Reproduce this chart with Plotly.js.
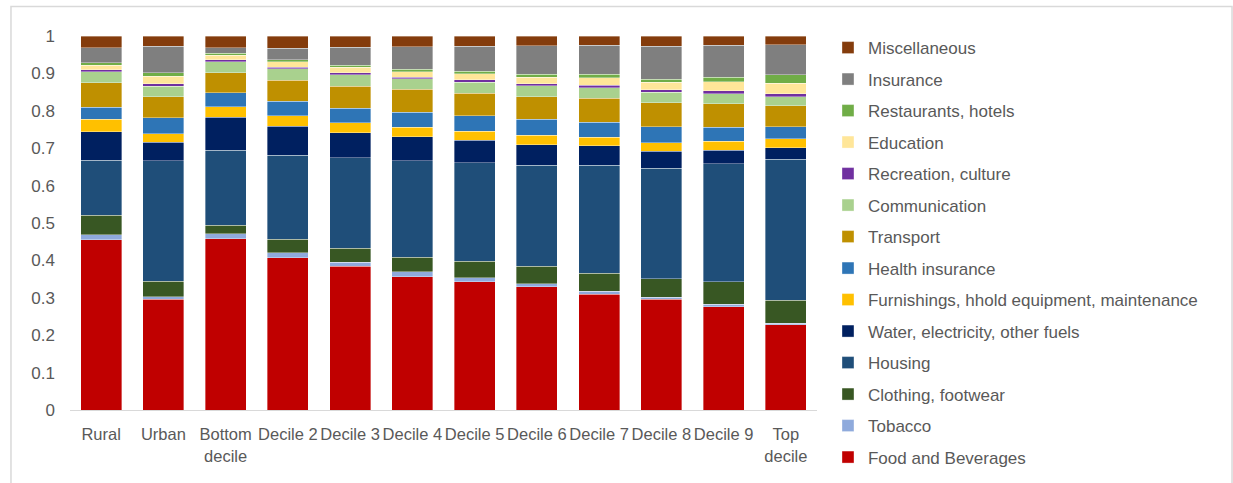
<!DOCTYPE html>
<html>
<head>
<meta charset="utf-8">
<script src="https://cdn.plot.ly/plotly-3.0.1.min.js"></script>
<style>
  html, body { margin: 0; padding: 0; background: #ffffff; }
  #chart { width: 1233px; height: 483px; }
</style>
</head>
<body>
<div id="chart"></div>
<script>
// Household budget shares by area and expenditure decile
const categories = ["Rural", "Urban", "Bottom<br>decile", "Decile 2", "Decile 3", "Decile 4",
                    "Decile 5", "Decile 6", "Decile 7", "Decile 8", "Decile 9", "Top<br>decile"];

const foodBeverages  = [0.455, 0.296, 0.458, 0.407, 0.384, 0.356, 0.343, 0.329, 0.310, 0.296, 0.276, 0.228];
const tobacco        = [0.013, 0.007, 0.013, 0.013, 0.011, 0.013, 0.010, 0.008, 0.008, 0.006, 0.007, 0.004];
const clothing       = [0.053, 0.041, 0.023, 0.036, 0.038, 0.040, 0.045, 0.047, 0.048, 0.049, 0.060, 0.062];
const housing        = [0.147, 0.322, 0.201, 0.225, 0.242, 0.257, 0.263, 0.271, 0.289, 0.295, 0.315, 0.377];
const waterEnergy    = [0.076, 0.050, 0.088, 0.078, 0.066, 0.065, 0.060, 0.054, 0.052, 0.046, 0.037, 0.030];
const furnishings    = [0.033, 0.023, 0.028, 0.028, 0.027, 0.025, 0.025, 0.026, 0.022, 0.022, 0.023, 0.024];
const healthIns      = [0.032, 0.042, 0.037, 0.038, 0.039, 0.040, 0.041, 0.042, 0.040, 0.043, 0.038, 0.032];
const transport      = [0.066, 0.057, 0.054, 0.057, 0.059, 0.061, 0.060, 0.061, 0.064, 0.065, 0.063, 0.057];
const communication  = [0.030, 0.028, 0.029, 0.030, 0.031, 0.029, 0.030, 0.029, 0.029, 0.028, 0.027, 0.023];
const recreation     = [0.005, 0.007, 0.006, 0.005, 0.005, 0.004, 0.006, 0.005, 0.006, 0.006, 0.007, 0.009];
const education      = [0.012, 0.020, 0.012, 0.014, 0.015, 0.015, 0.016, 0.018, 0.021, 0.020, 0.025, 0.028];
const restaurants    = [0.007, 0.009, 0.005, 0.005, 0.005, 0.006, 0.007, 0.008, 0.009, 0.008, 0.012, 0.023];
const insurance      = [0.040, 0.071, 0.014, 0.031, 0.048, 0.060, 0.066, 0.076, 0.077, 0.089, 0.085, 0.079];
const miscellaneous  = [0.031, 0.027, 0.032, 0.033, 0.030, 0.029, 0.028, 0.026, 0.025, 0.027, 0.025, 0.024];

// Stacking order, bottom to top
const seriesNames = ["Food and Beverages", "Tobacco", "Clothing, footwear", "Housing",
                     "Water, electricity, other fuels", "Furnishings, hhold equipment, maintenance",
                     "Health insurance", "Transport", "Communication", "Recreation, culture",
                     "Education", "Restaurants, hotels", "Insurance", "Miscellaneous"];
const seriesValues = [foodBeverages, tobacco, clothing, housing, waterEnergy, furnishings,
                      healthIns, transport, communication, recreation, education, restaurants,
                      insurance, miscellaneous];
const seriesColors = ["#C00000", "#8FAADC", "#385723", "#1F4E79", "#002060", "#FFC000",
                      "#2E75B6", "#BF9000", "#A9D18E", "#7030A0", "#FFE699", "#70AD47",
                      "#7F7F7F", "#843C0C"];

// Legend lists the top of the stack first
const traces = seriesNames.map((name, i) => ({
  type: "bar",
  name: name,
  x: categories,
  y: seriesValues[i],
  legendgroup: "g" + i,
  legendrank: seriesNames.length - i,
  marker: { color: seriesColors[i], line: { color: "rgba(255,255,255,0.45)", width: 0.8 } },
  hoverinfo: "x+y+name"
}));

const textFont = { family: "Liberation Sans, Arial, sans-serif", size: 17, color: "#595959" };
const xTickFont = { family: "Liberation Sans, Arial, sans-serif", size: 16.5, color: "#595959" };

const layout = {
  width: 1233,
  height: 483,
  margin: { l: 70, r: 416, t: 36, b: 73 },
  paper_bgcolor: "#ffffff",
  plot_bgcolor: "#ffffff",
  barmode: "stack",
  bargap: 0.34,
  font: textFont,
  showlegend: true,
  legend: {
    x: 1.0147, xanchor: "left",
    y: 1.016, yanchor: "top",
    traceorder: "grouped",
    tracegroupgap: 6.4,
    maxheight: 480,
    font: textFont,
    bgcolor: "rgba(0,0,0,0)"
  },
  xaxis: {
    type: "category",
    showgrid: false,
    zeroline: false,
    showline: true,
    linecolor: "#d9d9d9",
    linewidth: 1.3,
    ticks: "",
    tickangle: 0,
    ticklabelstandoff: 9,
    tickfont: xTickFont,
    fixedrange: true
  },
  yaxis: {
    range: [0, 1],
    dtick: 0.1,
    tick0: 0,
    showgrid: false,
    zeroline: false,
    showline: false,
    ticks: "",
    ticklabelstandoff: 14,
    tickfont: textFont,
    fixedrange: true
  },
  shapes: [{
    type: "rect", xref: "paper", yref: "paper",
    x0: -0.079, x1: 1.5556, y0: -0.25, y1: 1.0789,
    line: { color: "#d9d9d9", width: 1.5 },
    fillcolor: "rgba(0,0,0,0)", layer: "below"
  }]
};

Plotly.newPlot("chart", traces, layout, { displayModeBar: false, staticPlot: true });
</script>
</body>
</html>
